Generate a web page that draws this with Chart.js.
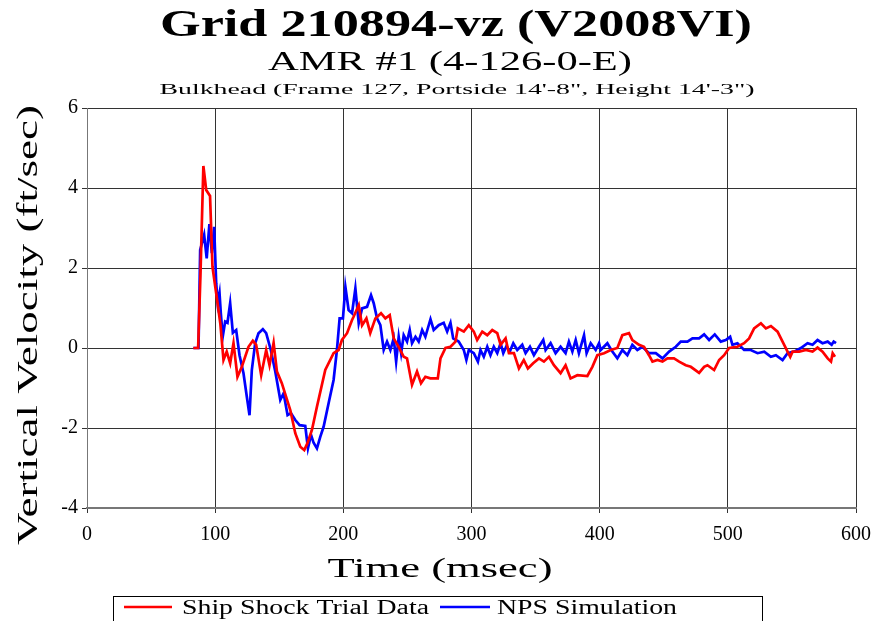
<!DOCTYPE html>
<html lang="en">
<head>
  <meta charset="UTF-8">
  <title>Grid 210894-vz (V2008VI)</title>
  <script src="https://cdn.jsdelivr.net/npm/chart.js"></script>
  <style>
    body { margin: 0; padding: 0; background: #ffffff; }
    #wrap { width: 883px; height: 621px; overflow: hidden; }
  </style>
</head>
<body>
  <div id="wrap"><canvas id="chart" width="883" height="621"></canvas></div>
  <script>
    // titles and labels
    const titleText = 'Grid 210894-vz (V2008VI)';
    const subtitleText = 'AMR #1 (4-126-0-E)';
    const locationText = 'Bulkhead (Frame 127, Portside 14\'-8", Height 14\'-3")';
    const xTitle = 'Time (msec)';
    const yTitle = 'Vertical Velocity (ft/sec)';
    const seriesNames = ['Ship Shock Trial Data', 'NPS Simulation'];
    const xTicks = [0, 100, 200, 300, 400, 500, 600];
    const yTicks = [-4, -2, 0, 2, 4, 6];

    // Ship shock trial data (time msec, velocity ft/sec)
    const trialTime = [83, 86.7, 88.5, 90.8, 93, 96, 97.9, 100.8, 104, 106.5, 109, 111.7, 114.3, 117.4, 120.8,
      126, 129.4, 132, 135.9, 139.8, 142.4, 145.6, 148.2, 152, 158.6, 162.5, 166.4, 169.5, 172, 175.5,
      179.4, 185.9, 192.4, 196.3, 198.9, 202.9, 206.8, 208, 212, 214.6, 218, 221, 225, 229.4, 232.8,
      236.2, 239.3, 243.2, 247.1, 249.7, 253.6, 257.5, 260.6, 264, 267.9, 273.7, 275.8, 279.7, 283.6,
      287.5, 289.3, 294, 297.9, 301.8, 304.4, 308.4, 312.3, 316.2, 320.1, 322.7, 326.6, 329.2, 333.1,
      337, 340.8, 344, 348.1, 352.6, 356.5, 360.4, 364.3, 369.5, 373.4, 377.3, 382.6, 390.4, 394.3,
      398.2, 403.4, 408.6, 413.8, 417.7, 422.9, 425.5, 430.7, 434.6, 438.5, 441.2, 445.1, 449, 452.9,
      458, 462, 467.2, 471.1, 477.6, 481.5, 484.1, 489.3, 493.2, 497.1, 501, 507.5, 512.7, 516.6,
      520.5, 525.8, 529.7, 533.6, 538.8, 542.7, 546.6, 548.7, 550.5, 555.7, 560.9, 566.1, 570, 573.9,
      577.9, 580.5, 581.8, 583.6];
    const trialVel = [0, 0, 1.8, 4.55, 3.95, 3.8, 2.03, 1.37, 0.62, -0.3, -0.09, -0.38, 0.12, -0.72, -0.47,
      0.03, 0.18, 0.08, -0.68, -0.05, -0.43, 0.13, -0.59, -0.88, -1.55, -2.13, -2.47, -2.55, -2.38, -2.05,
      -1.47, -0.55, -0.13, -0.05, 0.2, 0.37, 0.7, 0.78, 1.07, 0.57, 0.74, 0.37, 0.74, 0.87, 0.74,
      0.82, 0.24, 0.03, -0.22, -0.26, -0.92, -0.59, -0.88, -0.72, -0.76, -0.76, -0.26, 0, 0.03,
      0.16, 0.49, 0.41, 0.57, 0.41, 0.2, 0.41, 0.32, 0.45, 0.37, 0.08, 0.24, -0.13, -0.13,
      -0.51, -0.3, -0.51, -0.38, -0.26, -0.34, -0.22, -0.43, -0.63, -0.43, -0.76, -0.68, -0.7, -0.47,
      -0.18, -0.13, -0.05, 0, 0.32, 0.37, 0.2, 0.08, 0.03, -0.18, -0.34, -0.3, -0.34, -0.26,
      -0.26, -0.34, -0.43, -0.47, -0.62, -0.47, -0.43, -0.55, -0.3, -0.18, 0, 0.03, 0.12, 0.24,
      0.49, 0.62, 0.49, 0.55, 0.41, 0.16, -0.09, -0.22, -0.09, -0.09, -0.05, -0.09, 0.01, -0.09,
      -0.26, -0.34, -0.13, -0.22];

    // NPS simulation (time msec, velocity ft/sec)
    const simTime = [83, 87, 88.3, 91.4, 93.4, 95.5, 97.4, 99.2, 100.8, 102, 103.4, 104.4, 105.9, 107.8,
      109.6, 111.7, 113.8, 116.4, 119, 122.1, 124.7, 126.8, 128.6, 131.2, 133.8, 137.2, 139.8, 143.4,
      146.9, 150.8, 153.4, 156.5, 159.1, 162.5, 165.9, 170.3, 172.4, 174.8, 176.8, 179.4, 182, 184.6,
      188.5, 192.4, 195, 197.1, 199.7, 201.6, 204.1, 206.8, 209.4, 212, 214.6, 218.5, 221.6, 223.7,
      226.3, 228.9, 231.5, 234.1, 236.7, 239.3, 241.2, 243.2, 245.1, 247.1, 249.7, 251.8, 253.6, 256.3,
      258.8, 261.5, 264, 268, 270.5, 274.4, 278.3, 281, 283.6, 285.7, 290, 294, 296, 297.9,
      301.8, 305, 307, 309.6, 312.3, 314.8, 317.4, 320.1, 322.7, 324.8, 327.3, 329.9, 332.6, 335.7,
      339.6, 342.2, 345.6, 348.7, 352.6, 356, 357.8, 361.7, 365.6, 369.5, 373.4, 376, 378.7, 381.3,
      383.8, 387.8, 389.8, 393, 396.9, 399.5,
      400.8, 406, 409.9, 413.8, 417.7, 421.6, 425.5, 429.4, 433.3, 438.5,
      443.8, 449, 454.2, 459.4, 463.3, 468.5, 472.4, 477.6, 481.5, 485.4, 489.8, 494.5, 498.4, 501.8,
      503.6, 507.5, 512.7, 517.9, 523.2, 528.4, 533.6, 537.5, 542.7, 546.6, 551.8, 557, 562.2, 566.1,
      570, 573.9, 577.9, 581, 582.6, 584.4];
    const simVel = [0, 0, 2.45, 2.83, 2.24, 3.1, 2.37, 3.03, 1.62, 1.12, 1.37, 0.87, 0.28, 0.66,
      0.63, 1.12, 0.38, 0.45, -0.18, -0.63, -1.22, -1.68, -0.55, 0.12, 0.37, 0.47, 0.37, -0.05,
      -0.59, -1.3, -1.13, -1.68, -1.63, -1.8, -1.93, -1.95, -2.51, -2.17, -2.37, -2.51, -2.22, -1.97,
      -1.38, -0.8, -0.05, 0.74, 0.74, 1.53, 0.95, 0.87, 1.49, 0.62, 0.99, 1.03, 1.32, 1.12,
      0.74, 0.57, -0.05, 0.16, -0.05, 0.24, -0.34, 0.28, -0.13, 0.32, 0.16, 0.45, 0.12, 0.28,
      0.16, 0.45, 0.28, 0.72, 0.45, 0.57, 0.63, 0.41, 0.63, 0.24, 0.16, -0.05, -0.3, -0.05,
      -0.13, -0.34, -0.05, -0.22, 0.03, -0.18, 0.03, -0.13, 0.12, -0.13, 0.05, -0.09, 0.12, -0.05,
      0.08, -0.13, 0.03, -0.18, 0.03, 0.2, -0.05, 0.12, -0.13, 0.03, -0.13, 0.16, -0.09, 0.2,
      -0.13, 0.32, -0.13, 0.12, -0.05, 0.12,
      -0.05, 0.12, -0.09, -0.26, -0.05, -0.18, 0.08, -0.05, 0.03, -0.13,
      -0.13, -0.26, -0.09, 0.03, 0.16, 0.16, 0.24, 0.24, 0.34, 0.2, 0.34, 0.16, 0.2, 0.28,
      0.08, 0.12, -0.05, -0.05, -0.13, -0.09, -0.22, -0.18, -0.3, -0.13, -0.09, 0, 0.12, 0.08,
      0.2, 0.12, 0.16, 0.08, 0.16, 0.12];

    const serif = "'Liberation Serif', 'Times New Roman', serif";

    // draws text squeezed or stretched to a given width
    function fitText(ctx, text, x, y, font, width, angle) {
      ctx.save();
      ctx.font = font;
      const w = ctx.measureText(text).width;
      ctx.translate(x, y);
      if (angle) ctx.rotate(angle);
      ctx.scale(width / w, 1);
      ctx.textAlign = 'center';
      ctx.textBaseline = 'alphabetic';
      ctx.fillStyle = '#000';
      ctx.fillText(text, 0, 0);
      ctx.restore();
    }

    const textPlugin = {
      id: 'texts',
      afterDraw(chart) {
        const ctx = chart.ctx;
        fitText(ctx, titleText, 456, 36, 'bold 37px ' + serif, 592);
        fitText(ctx, subtitleText, 450, 70, '27px ' + serif, 364);
        fitText(ctx, locationText, 457, 94, '15px ' + serif, 595);
        fitText(ctx, xTitle, 440, 577, '27px ' + serif, 225);
        fitText(ctx, yTitle, 37, 325, '30px ' + serif, 440, -Math.PI / 2);

        // legend box
        ctx.save();
        ctx.strokeStyle = '#000';
        ctx.lineWidth = 1;
        ctx.strokeRect(113.5, 596.5, 649, 40);
        ctx.lineWidth = 2.5;
        ctx.strokeStyle = '#ff0000';
        ctx.beginPath(); ctx.moveTo(124, 607); ctx.lineTo(172, 607); ctx.stroke();
        ctx.strokeStyle = '#0000ff';
        ctx.beginPath(); ctx.moveTo(440, 607); ctx.lineTo(490, 607); ctx.stroke();
        ctx.restore();
        fitText(ctx, seriesNames[0], 305.5, 614, '20px ' + serif, 247);
        fitText(ctx, seriesNames[1], 587, 614, '20px ' + serif, 180);
      }
    };

    const toPoints = (xs, ys) => xs.map((x, i) => ({ x: x, y: ys[i] }));

    new Chart(document.getElementById('chart').getContext('2d'), {
      type: 'line',
      data: {
        datasets: [
          {
            label: seriesNames[0],
            data: toPoints(trialTime, trialVel),
            borderColor: '#ff0000',
            borderWidth: 2.7,
            pointRadius: 0,
            tension: 0
          },
          {
            label: seriesNames[1],
            data: toPoints(simTime, simVel),
            borderColor: '#0000ff',
            borderWidth: 2.7,
            pointRadius: 0,
            tension: 0
          }
        ]
      },
      options: {
        responsive: false,
        animation: false,
        devicePixelRatio: 1,
        layout: { padding: { top: 108, right: 27, left: 0, bottom: 0 } },
        plugins: { legend: { display: false }, tooltip: { enabled: false } },
        scales: {
          x: {
            type: 'linear',
            min: 0, max: 600,
            afterFit: s => { s.height = 113; },
            afterBuildTicks: s => { s.ticks = xTicks.map(v => ({ value: v })); },
            grid: { color: '#333', lineWidth: 1, tickLength: 5, drawTicks: true },
            border: { color: '#777', width: 2 },
            ticks: { color: '#000', font: { family: serif, size: 20 }, padding: 10, maxRotation: 0 }
          },
          y: {
            min: -4, max: 6,
            afterFit: s => { s.width = 87; },
            afterBuildTicks: s => { s.ticks = yTicks.map(v => ({ value: v })); },
            grid: { color: '#333', lineWidth: 1, tickLength: 5, drawTicks: true },
            border: { color: '#777', width: 1 },
            ticks: { color: '#000', font: { family: serif, size: 20 }, padding: 4 }
          }
        }
      },
      plugins: [textPlugin]
    });
  </script>
</body>
</html>
